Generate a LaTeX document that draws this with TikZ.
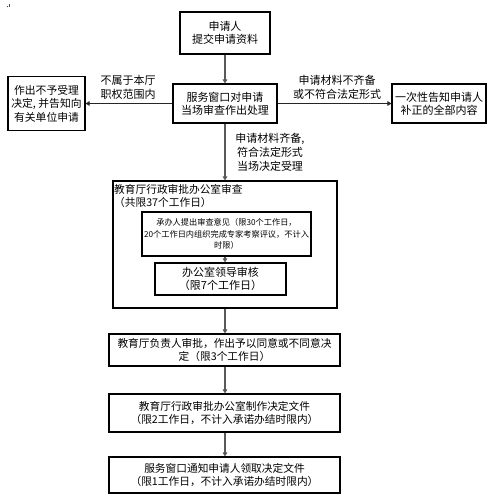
\documentclass[tikz,border=0pt]{standalone}
\usepackage{fontspec}
\setmainfont{Noto Sans CJK SC}
\usetikzlibrary{arrows.meta}
\tikzset{
  box/.style={draw=black, line width=1.1pt, inner sep=0pt, align=center, font=\fontsize{11}{13}\selectfont},
  conn/.style={draw=black!65, line width=1.8pt, -{Triangle[length=4pt,width=4.5pt]}},
  hconn/.style={draw=black!85, line width=1pt, -{Triangle[length=4pt,width=4.5pt]}},
  lbl/.style={align=center, inner sep=0pt, font=\fontsize{11}{14}\selectfont}
}
\begin{document}
\begin{tikzpicture}[x=1pt,y=-1pt]
\useasboundingbox (0,0) rectangle (491,499);
% tiny mark top-left
\fill[black!70] (7.5,6.5) circle (0.6);
\draw[black!70, line width=0.6pt] (9.5,3.5) -- (9.5,7);
\node[box, minimum width=90, minimum height=42] (b1) at (225,33) {申请人\\提交申请资料};
\node[box, minimum width=104, minimum height=39] (b2) at (225,103.5) {服务窗口对申请\\当场审查作出处理};
\node[box, minimum width=77, minimum height=54, font=\fontsize{10.8}{13.5}\selectfont] (bl) at (46.5,103.5) {作出不予受理\\决定, 并告知向\\有关单位申请};
\node[box, minimum width=94, minimum height=39] (br) at (439,103.5) {一次性告知申请人\\补正的全部内容};
\node[box, minimum width=224, minimum height=127] (big) at (225,244.5) {};
\node[align=left, inner sep=0pt, anchor=north west, font=\fontsize{10.7}{13}\selectfont] (title) at (114,184) {教育厅行政审批办公室审查\\（共限37个工作日）};
\node[box, minimum width=169, minimum height=44, font=\fontsize{8.2}{11.5}\selectfont] (i1) at (226.5,234) {承办人提出审查意见（限30个工作日，\\20个工作日内组织完成专家考察评议，不计入\\时限）};
\node[box, minimum width=131, minimum height=32, font=\fontsize{11}{13}\selectfont] (i2) at (220.5,279) {办公室领导审核\\（限7个工作日）};
\node[box, minimum width=231, minimum height=32, font=\fontsize{10.7}{12.5}\selectfont] (a) at (224.5,350) {教育厅负责人审批，作出予以同意或不同意决\\定（限3个工作日）};
\node[box, minimum width=231, minimum height=38, font=\fontsize{10.7}{13}\selectfont] (b) at (224.5,413) {教育厅行政审批办公室制作决定文件\\（限2工作日，不计入承诺办结时限内）};
\node[box, minimum width=231, minimum height=36, font=\fontsize{10.7}{13}\selectfont] (c) at (224.5,475) {服务窗口通知申请人领取决定文件\\（限1工作日，不计入承诺办结时限内）};
% labels
\node[lbl] (l1) at (128,87.5) {不属于本厅\\职权范围内};
\node[lbl] (l2) at (337,87.5) {申请材料不齐备\\或不符合法定形式};
\node[lbl] (l3) at (270,152) {申请材料齐备,\\符合法定形式\\当场决定受理};
% connectors
\draw[conn] (b1.south) -- (b2.north);
\draw[hconn] (b2.west) -- (bl.east);
\draw[hconn] (b2.east) -- (br.west);
\draw[conn] (b2.south) -- (big.north);
\draw[conn] (big.center |- i1.south) -- (big.center |- i2.north);
\draw[conn] (big.south) -- (big.south |- a.north);
\draw[conn] (big.south |- a.south) -- (big.south |- b.north);
\draw[conn] (big.south |- b.south) -- (big.south |- c.north);
\end{tikzpicture}
\end{document}
